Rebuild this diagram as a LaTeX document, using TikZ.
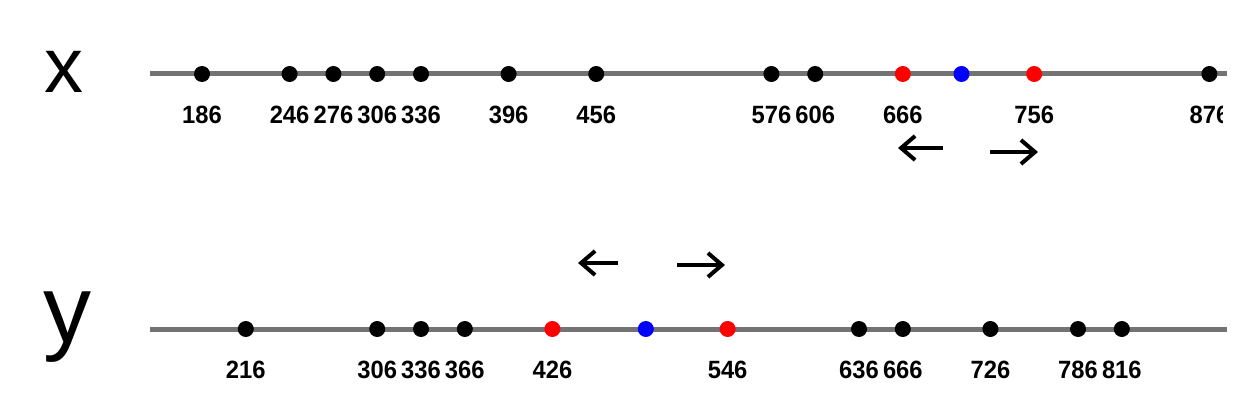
\documentclass[tikz,border=0pt]{standalone}
\usepackage{fontspec}
\setmainfont{Liberation Sans}
\newfontfamily\numfont[FakeStretch=0.95]{Liberation Sans}
\usetikzlibrary{arrows.meta}
\tikzset{x=0.5pt, y=-0.5pt, % one unit is one pixel of the reference
        axis/.style={ % the two number lines
            line width=2.5pt,
            draw=black!55},
        dot/.style={ % Sets the properties for each value
            circle,
            inner sep=0pt,
            minimum size=8pt,
            fill=black},
        pick/.style={dot, fill=red}, % the two red values
        mid/.style={dot, fill=blue}, % the blue value between them
        num/.style={ % number under a value
            font=\numfont\bfseries\fontsize{12.5}{14}\selectfont,
            inner sep=0pt,
            label distance=11.5pt},
        move/.style={ % the small arrows
            line width=2pt,
            -{Straight Barb[length=7pt,width=12pt,line width=2pt]}}
        }

\begin{document}
\begin{tikzpicture}
    \useasboundingbox (0,0) rectangle (1257,411);

    % first line
    \node[anchor=base, font=\fontsize{39}{40}\selectfont] (xname) at (64,93) {x};
    \coordinate (xstart) at (150,74);
    \coordinate (xend)   at (1227,74);
    \draw[axis] (xstart) -- (xend);

    \node[dot]  (x186) at (202,74)    [label={[num]below:186}] {};
    \node[dot]  (x246) at (289.6,74)  [label={[num]below:246}] {};
    \node[dot]  (x276) at (333.4,74)  [label={[num]below:276}] {};
    \node[dot]  (x306) at (377.2,74)  [label={[num]below:306}] {};
    \node[dot]  (x336) at (421,74)    [label={[num]below:336}] {};
    \node[dot]  (x396) at (508.6,74)  [label={[num]below:396}] {};
    \node[dot]  (x456) at (596.2,74)  [label={[num]below:456}] {};
    \node[dot]  (x576) at (771.4,74)  [label={[num]below:576}] {};
    \node[dot]  (x606) at (815.2,74)  [label={[num]below:606}] {};
    \node[pick] (x666) at (902.8,74)  [label={[num]below:666}] {};
    \node[mid]  (xmid) at (961.5,74)  {};
    \node[pick] (x756) at (1034.2,74) [label={[num]below:756}] {};
    \begin{scope}
        \clip (0,0) rectangle (1222,411);
        \node[dot] (x876) at (1209.4,74) [label={[num]below:876}] {};
    \end{scope}

    \coordinate (xl0) at (943,148);
    \coordinate (xl1) at (898,148);
    \coordinate (xr0) at (990,152);
    \coordinate (xr1) at (1038,152);
    \draw[move] (xl0) -- (xl1);
    \draw[move] (xr0) -- (xr1);

    % second line
    \node[anchor=base, font=\fontsize{48}{50}\selectfont] (yname) at (67,342) {y};
    \coordinate (ystart) at (150,329);
    \coordinate (yend)   at (1227,329);
    \draw[axis] (ystart) -- (yend);

    \node[dot]  (y216) at (245.8,329)  [label={[num]below:216}] {};
    \node[dot]  (y306) at (377.2,329)  [label={[num]below:306}] {};
    \node[dot]  (y336) at (421,329)    [label={[num]below:336}] {};
    \node[dot]  (y366) at (464.8,329)  [label={[num]below:366}] {};
    \node[pick] (y426) at (552.4,329)  [label={[num]below:426}] {};
    \node[mid]  (ymid) at (645.8,329)  {};
    \node[pick] (y546) at (727.6,329)  [label={[num]below:546}] {};
    \node[dot]  (y636) at (859,329)    [label={[num]below:636}] {};
    \node[dot]  (y666) at (902.8,329)  [label={[num]below:666}] {};
    \node[dot]  (y726) at (990.4,329)  [label={[num]below:726}] {};
    \node[dot]  (y786) at (1078,329)   [label={[num]below:786}] {};
    \node[dot]  (y816) at (1121.8,329) [label={[num]below:816}] {};

    \coordinate (yl0) at (618,263);
    \coordinate (yl1) at (578,263);
    \coordinate (yr0) at (677,265);
    \coordinate (yr1) at (725,265);
    \draw[move] (yl0) -- (yl1);
    \draw[move] (yr0) -- (yr1);
\end{tikzpicture}
\end{document}
